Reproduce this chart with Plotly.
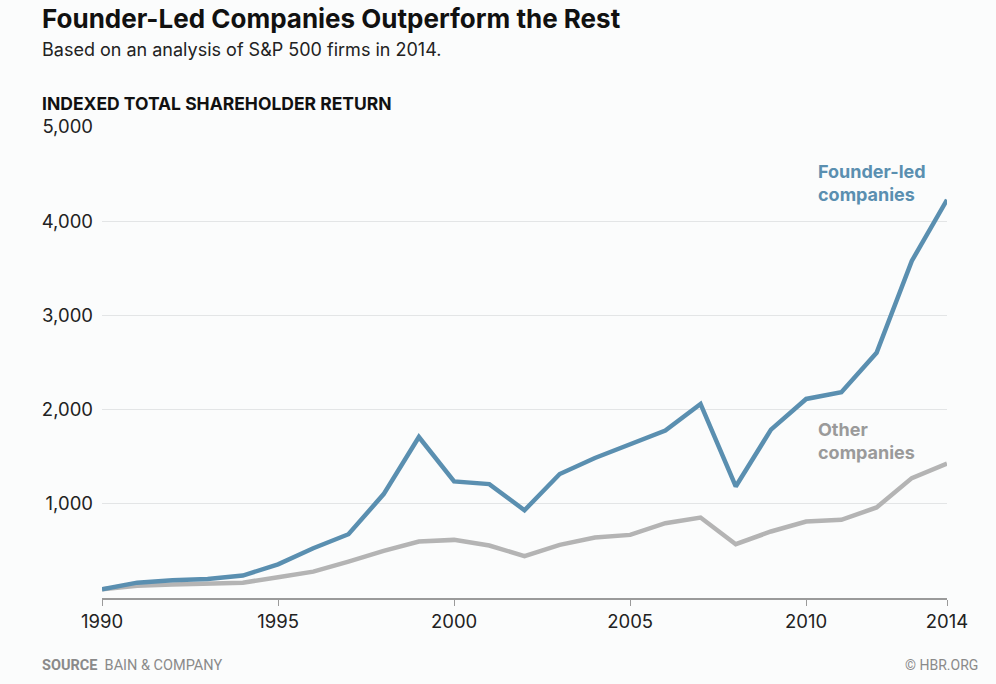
import plotly.graph_objects as go

years = list(range(1990, 2015))
founder_led = [92, 163, 188, 202, 238, 358, 528, 677, 1103, 1709, 1238, 1209, 932,
               1316, 1486, 1628, 1777, 2060, 1184, 1787, 2113, 2184, 2603, 3578, 4227]
other = [92, 131, 142, 152, 163, 220, 280, 386, 500, 599, 617, 557, 445,
         564, 642, 670, 794, 854, 571, 706, 812, 830, 961, 1273, 1426]
x_ticks = [1990, 1995, 2000, 2005, 2010, 2014]
y_ticks = [1000, 2000, 3000, 4000, 5000]

BLUE = "#5a8fb0"
GRAY = "#b4b4b4"
FONT = "Inter"
W, H = 996, 684
ML, MR, MT, MB = 102, 49, 127, 86
PW, PH = W - ML - MR, H - MT - MB

fig = go.Figure()
fig.add_trace(go.Scatter(x=years, y=other, mode="lines",
                         line=dict(color=GRAY, width=4.5), name="Other companies",
                         hoverinfo="x+y"))
fig.add_trace(go.Scatter(x=years, y=founder_led, mode="lines",
                         line=dict(color=BLUE, width=4.5), name="Founder-led companies",
                         hoverinfo="x+y"))

fig.update_layout(
    width=W, height=H,
    margin=dict(l=ML, r=MR, t=MT, b=MB),
    paper_bgcolor="#fbfcfc", plot_bgcolor="#fbfcfc",
    showlegend=False,
    font=dict(family=FONT, color="#222222"),
    xaxis=dict(range=[1990, 2014], tickvals=x_ticks, ticktext=[str(v) for v in x_ticks],
               showgrid=False, zeroline=False, showline=True, linecolor="#9a9a9a",
               linewidth=1.5, ticks="outside", ticklen=6, tickcolor="#9a9a9a",
               tickfont=dict(size=18.5, color="#222222", family=FONT)),
    yaxis=dict(range=[0, 5000], tickvals=y_ticks,
               ticktext=[f"{v:,}" for v in y_ticks],
               showgrid=True, gridcolor="#e3e5e6", gridwidth=1, zeroline=False,
               showline=False, ticks="", ticklabelstandoff=8,
               tickfont=dict(size=18.5, color="#222222", family=FONT)),
)


def px_x(x):
    return (x - ML) / PW


def px_y(y):
    return (H - MB - y) / PH


annotations = [
    dict(text="<b>Founder-Led Companies Outperform the Rest</b>", x=40, y=18,
         size=26, color="#111111", family=FONT),
    dict(text="Based on an analysis of S&P 500 firms in 2014.", x=40, y=49,
         size=18, color="#222222", family=FONT),
    dict(text="<b>INDEXED TOTAL SHAREHOLDER RETURN</b>", x=40, y=103,
         size=17.5, color="#111111", family=FONT),
    dict(text="<b>SOURCE</b>  BAIN & COMPANY", x=40, y=665,
         size=14.5, color="#8a8a8a", family="Roboto"),
]
for a in annotations:
    fig.add_annotation(xref="paper", yref="paper", x=px_x(a["x"]), y=px_y(a["y"]),
                       text=a["text"], showarrow=False, xanchor="left", yanchor="middle",
                       font=dict(family=a["family"], size=a["size"], color=a["color"]))

fig.add_annotation(xref="paper", yref="paper", x=px_x(980), y=px_y(665),
                   text="© HBR.ORG", showarrow=False, xanchor="right", yanchor="middle",
                   font=dict(family="Roboto", size=14, color="#8a8a8a"))

fig.add_annotation(x=2010.27, y=4404, xref="x", yref="y",
                   text="<b>Founder-led<br>companies</b>", showarrow=False,
                   xanchor="left", yanchor="middle", align="left",
                   font=dict(family=FONT, size=18, color=BLUE))
fig.add_annotation(x=2010.27, y=1670, xref="x", yref="y",
                   text="<b>Other<br>companies</b>", showarrow=False,
                   xanchor="left", yanchor="middle", align="left",
                   font=dict(family=FONT, size=18, color="#9a9a9a"))

fig.write_html("out.html", config={"displayModeBar": False},
               post_script="document.body.style.margin='0';")
